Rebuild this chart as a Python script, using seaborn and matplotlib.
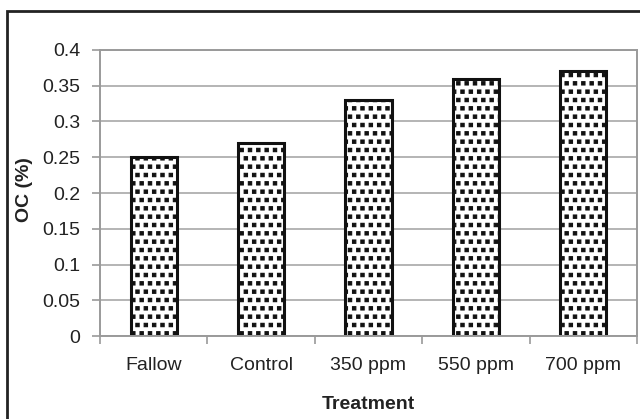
import matplotlib
matplotlib.use("Agg")
import matplotlib.pyplot as plt
import matplotlib.hatch as mhatch
from matplotlib.path import Path
import seaborn as sns
import pandas as pd
from matplotlib.patches import Rectangle

treatments = ["Fallow", "Control", "350 ppm", "550 ppm", "700 ppm"]
oc_percent = [0.25, 0.27, 0.33, 0.36, 0.37]
y_ticks = [0, 0.05, 0.1, 0.15, 0.2, 0.25, 0.3, 0.35, 0.4]
y_tick_labels = ["0", "0.05", "0.1", "0.15", "0.2", "0.25", "0.3", "0.35", "0.4"]


class SmallFilledSquares(mhatch.Shapes):
    """Dot hatch ('.') drawn as small filled squares instead of circles."""
    size = 0.2
    filled = True

    def __init__(self, hatch, density):
        self.num_rows = hatch.count('.') * density
        sq = Path.unit_rectangle()
        self.shape_vertices = sq.vertices * 2.0 - 1.0
        self.shape_codes = sq.codes
        super().__init__(hatch, density)


mhatch._hatch_types = [SmallFilledSquares if t is mhatch.SmallFilledCircles else t
                       for t in mhatch._hatch_types]

sns.set_style("white")
plt.rcParams["font.family"] = ["Liberation Sans", "DejaVu Sans"]
plt.rcParams["hatch.linewidth"] = 0.8
plt.rcParams["hatch.color"] = "#111111"

df = pd.DataFrame({"Treatment": treatments, "OC": oc_percent})

W, H = 640, 419
fig = plt.figure(figsize=(W / 100, H / 100), dpi=100)
ax = fig.add_axes([100 / W, 1 - 336 / H, 537 / W, 286 / H])

sns.barplot(data=df, x="Treatment", y="OC", ax=ax, color="white",
            edgecolor="#111111", linewidth=2.2, width=0.43, hatch="..",
            saturation=1)

ax.set_ylim(0, 0.4)
ax.set_xlim(-0.5, len(treatments) - 0.5)
ax.set_yticks(y_ticks)
ax.set_yticklabels(y_tick_labels)
ax.yaxis.grid(True, color="#a8a8a8", linewidth=1.2)
ax.set_axisbelow(True)

for side in ["left", "right", "top", "bottom"]:
    ax.spines[side].set_visible(True)
    ax.spines[side].set_color("#9a9a9a")
    ax.spines[side].set_linewidth(1.4)

ax.tick_params(axis="y", which="major", length=6, width=1.2, color="#9a9a9a",
               labelsize=14, pad=8, direction="out", left=True,
               labelcolor="#222222")
ax.tick_params(axis="x", which="major", length=0, labelsize=14, pad=15,
               labelcolor="#222222")

# boundary ticks between categories on the x axis
ax.set_xticks([i - 0.5 for i in range(len(treatments) + 1)], minor=True)
ax.tick_params(axis="x", which="minor", length=6, width=1.2, color="#9a9a9a",
               direction="out", bottom=True)

ax.set_xlabel("Treatment", fontsize=14, fontweight="bold", labelpad=16,
              color="#222222")
ax.set_ylabel("OC (%)", fontsize=14, fontweight="bold", color="#222222")
ax.yaxis.set_label_coords(-(100 - 33) / 537, (336 - 190) / 286)

# outer chart frame
fig.patches.append(Rectangle((7 / W, -0.05), 1.1, 1 - 11 / H + 0.05,
                             transform=fig.transFigure, fill=False,
                             edgecolor="#222222", linewidth=2))

fig.savefig("out.png", dpi=100)
